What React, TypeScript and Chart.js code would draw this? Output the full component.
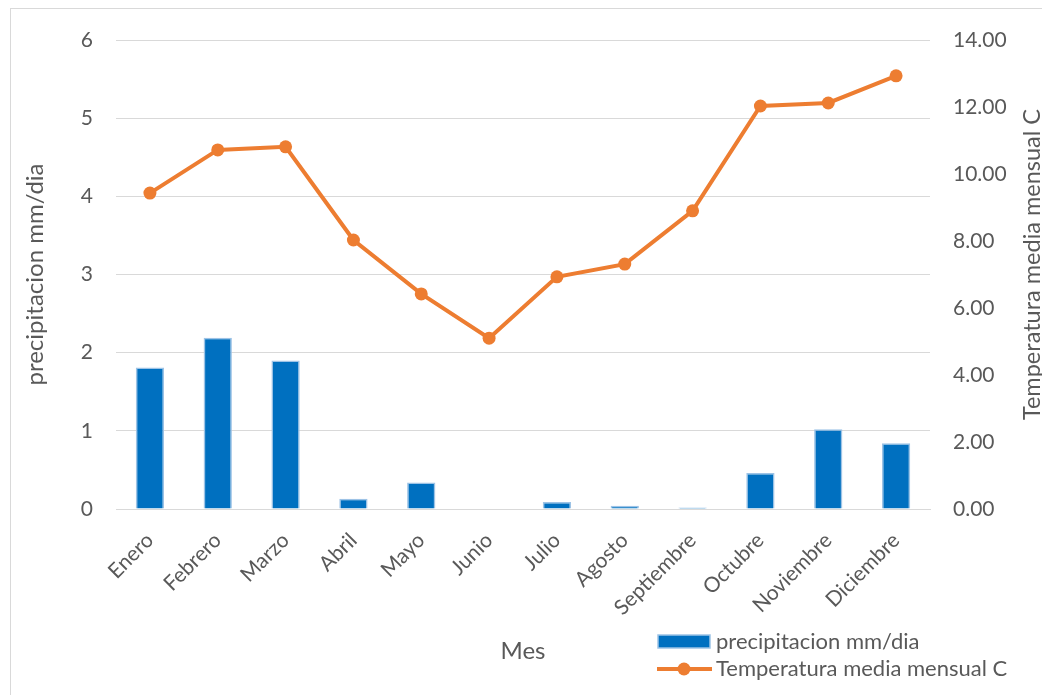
import React, { useEffect, useRef } from "react";
import { Chart, registerables } from "chart.js";

Chart.register(...registerables);

const months = ["Enero", "Febrero", "Marzo", "Abril", "Mayo", "Junio", "Julio", "Agosto", "Septiembre", "Octubre", "Noviembre", "Diciembre"];
const precipitacion = [1.81, 2.19, 1.9, 0.13, 0.34, 0, 0.09, 0.04, 0.02, 0.46, 1.02, 0.84];
const temperatura = [9.43, 10.72, 10.81, 8.03, 6.42, 5.1, 6.93, 7.31, 8.9, 12.03, 12.12, 12.93];

const precipLabel = "precipitacion mm/dia";
const tempLabel = "Temperatura media mensual C";
const xTitle = "Mes";

const leftMax = 6;
const leftStep = 1;
const rightMax = 14;
const rightStep = 2;

const FONT = "Lato, 'Noto Sans', sans-serif";
const TEXT = "#595959";
const GRID = "#d9d9d9";
const BLUE = "#0070C0";
const BLUE_EDGE = "#9DC3E6";
const ORANGE = "#ED7D31";

const decorPlugin = {
  id: "decor",
  afterDraw(chart: any) {
    const ctx = chart.ctx as CanvasRenderingContext2D;
    const area = chart.chartArea;
    ctx.save();
    // outer frame
    ctx.strokeStyle = GRID;
    ctx.lineWidth = 1;
    ctx.strokeRect(10.5, 8.5, 1200, 900);

    ctx.fillStyle = TEXT;
    ctx.font = `24px ${FONT}`;
    ctx.textAlign = "center";
    ctx.textBaseline = "middle";

    // left axis title
    ctx.save();
    ctx.translate(35, (area.top + area.bottom) / 2);
    ctx.rotate(-Math.PI / 2);
    ctx.fillText(precipLabel, 0, 0);
    ctx.restore();

    // right axis title
    ctx.save();
    ctx.translate(1032, (area.top + area.bottom) / 2 - 10);
    ctx.rotate(-Math.PI / 2);
    ctx.font = `23.5px ${FONT}`;
    ctx.fillText(tempLabel, 0, 0);
    ctx.restore();

    // x title
    ctx.fillText(xTitle, (area.left + area.right) / 2, 651);

    // legend
    const ds = chart.data.datasets;
    ctx.font = `22px ${FONT}`;
    ctx.textAlign = "left";
    // bar item
    ctx.fillStyle = ds[0].backgroundColor;
    ctx.fillRect(658, 635, 52, 13);
    ctx.strokeStyle = ds[0].borderColor;
    ctx.lineWidth = 1.5;
    ctx.strokeRect(658, 635, 52, 13);
    ctx.fillStyle = TEXT;
    ctx.fillText(ds[0].label, 716, 642);
    // line item
    ctx.strokeStyle = ds[1].borderColor;
    ctx.lineWidth = 4;
    ctx.beginPath();
    ctx.moveTo(657, 669);
    ctx.lineTo(712, 669);
    ctx.stroke();
    ctx.fillStyle = ds[1].pointBackgroundColor;
    ctx.beginPath();
    ctx.arc(684, 669, 6.5, 0, Math.PI * 2);
    ctx.fill();
    ctx.fillStyle = TEXT;
    ctx.fillText(ds[1].label, 716, 669);
    ctx.restore();
  },
};

export default function App() {
  const ref = useRef<HTMLCanvasElement | null>(null);

  useEffect(() => {
    if (!ref.current) return;
    const chart = new Chart(ref.current, {
      type: "bar",
      data: {
        labels: months,
        datasets: [
          {
            type: "bar",
            label: precipLabel,
            data: precipitacion,
            backgroundColor: BLUE,
            borderColor: BLUE_EDGE,
            borderWidth: 1.5,
            yAxisID: "y",
            categoryPercentage: 1,
            barPercentage: 0.417,
            order: 2,
          } as any,
          {
            type: "line",
            label: tempLabel,
            data: temperatura,
            borderColor: ORANGE,
            backgroundColor: ORANGE,
            borderWidth: 4,
            pointRadius: 6.5,
            pointBackgroundColor: ORANGE,
            pointBorderColor: ORANGE,
            pointBorderWidth: 0,
            tension: 0,
            yAxisID: "y1",
            order: 1,
          } as any,
        ],
      },
      options: {
        responsive: false,
        animation: false,
        layout: { padding: { top: 40, left: 0, right: 0, bottom: 0 } },
        plugins: {
          legend: { display: false },
          tooltip: { enabled: false },
          title: { display: false },
        },
        scales: {
          x: {
            grid: { display: false },
            border: { display: true, color: GRID, width: 1 },
            ticks: {
              minRotation: 45,
              maxRotation: 45,
              autoSkip: false,
              padding: 11,
              color: TEXT,
              font: { family: FONT, size: 21 },
            },
            afterFit: (s: any) => {
              s.height = 186;
              s.paddingLeft = 0;
              s.paddingRight = 0;
            },
          },
          y: {
            position: "left",
            min: 0,
            max: leftMax,
            ticks: {
              stepSize: leftStep,
              padding: 23,
              color: TEXT,
              font: { family: FONT, size: 21 },
            },
            grid: { color: GRID, lineWidth: 1, drawTicks: false },
            border: { display: false },
            afterFit: (s: any) => {
              s.width = 116;
              s.paddingTop = 0;
              s.paddingBottom = 0;
            },
          },
          y1: {
            position: "right",
            min: 0,
            max: rightMax,
            ticks: {
              stepSize: rightStep,
              padding: 23,
              color: TEXT,
              font: { family: FONT, size: 21 },
              callback: (v: any) => Number(v).toFixed(2),
            },
            grid: { display: false, drawTicks: false },
            border: { display: false },
            afterFit: (s: any) => {
              s.width = 112;
              s.paddingTop = 0;
              s.paddingBottom = 0;
            },
          },
        },
      } as any,
      plugins: [decorPlugin],
    });
    return () => chart.destroy();
  }, []);

  return (
    <div style={{ position: "fixed", left: 0, top: 0, width: 1042, height: 695, background: "#fff" }}>
      <canvas ref={ref} width={1042} height={695} />
    </div>
  );
}
